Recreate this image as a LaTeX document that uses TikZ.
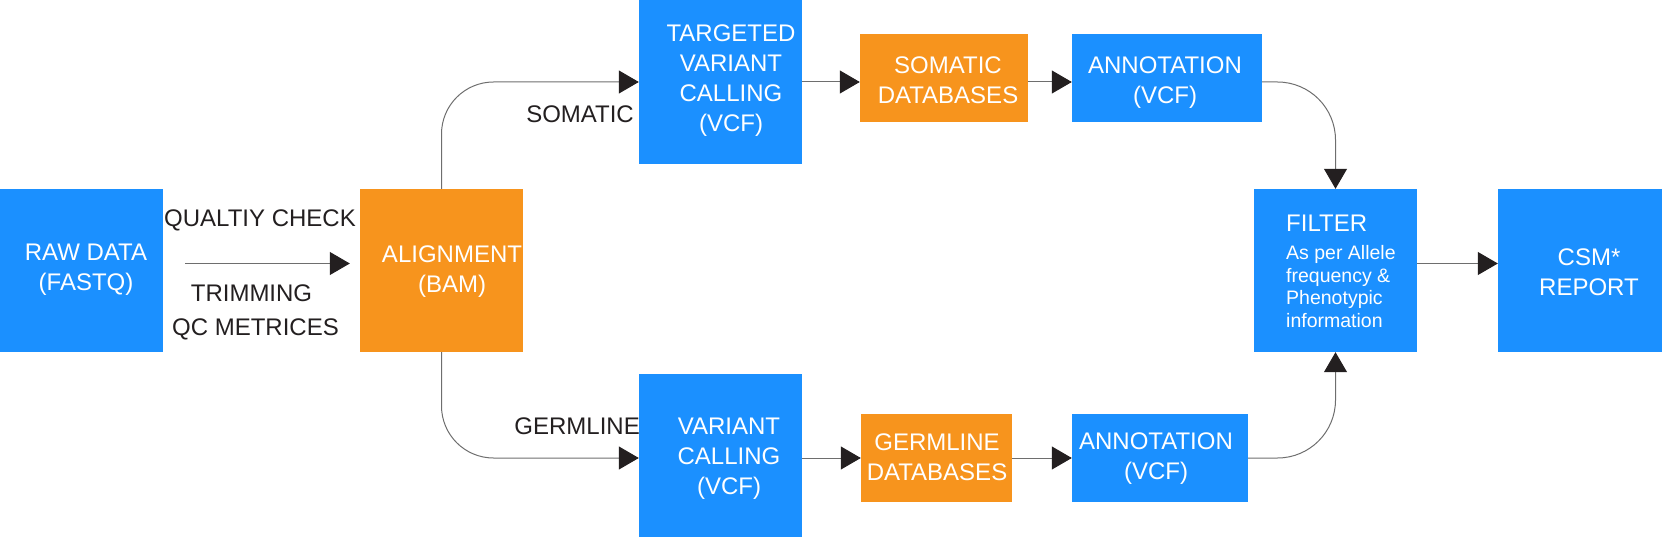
\documentclass[tikz,border=0pt]{standalone}
\usepackage{fontspec}
\setmainfont{Liberation Sans}
\usetikzlibrary{arrows.meta}
\definecolor{bblue}{RGB}{27,144,255}
\definecolor{borange}{RGB}{247,148,29}
\definecolor{dark}{RGB}{35,31,32}
\definecolor{lgray}{RGB}{110,110,110}
\tikzset{
  box/.style={draw=none, inner sep=0pt},
  bluebox/.style={box, fill=bblue},
  orangebox/.style={box, fill=borange},
  wtext/.style={text=white, font=\fontsize{24}{30}\selectfont, align=center, inner sep=0pt},
  ltext/.style={text=dark, font=\fontsize{24}{30}\selectfont, inner sep=0pt},
  conn/.style={draw=lgray, line width=1pt, -{Triangle[length=20pt,width=23pt,color=dark]}},
}
\begin{document}
\begin{tikzpicture}[x=1pt,y=-1pt]
\useasboundingbox (0,0) rectangle (1662,540);
% boxes
\node[bluebox, minimum width=162.5pt, minimum height=163pt] (raw) at (81.25,270.5) {};
\node[orangebox, minimum width=163pt, minimum height=163pt] (align) at (441.5,270.5) {};
\node[bluebox, minimum width=163pt, minimum height=164pt] (tvc) at (720.5,82) {};
\node[orangebox, minimum width=168pt, minimum height=88pt] (somdb) at (944,78) {};
\node[bluebox, minimum width=190pt, minimum height=88pt] (annot1) at (1167,78) {};
\node[bluebox, minimum width=163pt, minimum height=163pt] (filter) at (1335.5,270.5) {};
\node[bluebox, minimum width=164pt, minimum height=163pt] (csm) at (1580,270.5) {};
\node[bluebox, minimum width=163pt, minimum height=163pt] (vc) at (720.5,455.5) {};
\node[orangebox, minimum width=151pt, minimum height=88pt] (germdb) at (936.5,458) {};
\node[bluebox, minimum width=176pt, minimum height=88pt] (annot2) at (1160,458) {};
% texts in boxes
\node[wtext] (rawt) at (86,270) {RAW DATA\\(FASTQ)};
\node[wtext] (alignt) at (452,272) {ALIGNMENT\\(BAM)};
\node[wtext] (tvct) at (731,81) {TARGETED\\VARIANT\\CALLING\\(VCF)};
\node[wtext] (somdbt) at (948,80) {SOMATIC\\DATABASES};
\node[wtext] (annot1t) at (1165,82.5) {ANNOTATION\\(VCF)};
\node[wtext, anchor=north west, align=left] (filtert) at (1286,215) {FILTER};
\node[text=white, anchor=north west, align=left, inner sep=0pt, font=\fontsize{19.5}{22.7}\selectfont] (filters) at (1286,245) {As per Allele\\frequency \&\\Phenotypic\\information};
\node[wtext] (csmt) at (1589,272) {CSM*\\REPORT};
\node[wtext] (vct) at (729,459) {VARIANT\\CALLING\\(VCF)};
\node[wtext] (germdbt) at (937,457.5) {GERMLINE\\DATABASES};
\node[wtext] (annot2t) at (1156,459) {ANNOTATION\\(VCF)};
% labels
\node[ltext] (qc) at (260,220) {QUALTIY CHECK};
\node[ltext] (trim) at (251.5,293) {TRIMMING};
\node[ltext] (qcm) at (255.5,329) {QC METRICES};
\node[ltext, anchor=east] (som) at (634,114.5) {SOMATIC};
\node[ltext, anchor=east] (germ) at (640,426) {GERMLINE};
% connectors
\draw[conn, shorten <=22.5pt, shorten >=10pt] ([yshift=7pt]raw.east) -- ([yshift=7pt]align.west);
\draw[conn, rounded corners=52pt] (align.north) |- (tvc.west);
\draw[conn, rounded corners=52pt] (align.south) |- (vc.west |- germdb.west);
\draw[conn] (tvc.east) -- (tvc.east -| somdb.west);
\draw[conn] (somdb.east |- tvc.east) -- (annot1.west |- tvc.east);
\draw[conn] (vc.east |- germdb.west) -- (germdb.west);
\draw[conn] (germdb.east) -- (annot2.west);
\draw[conn, rounded corners=58pt] (annot1.east |- tvc.east) -| (filter.north);
\draw[conn, rounded corners=58pt] (annot2.east) -| (filter.south);
\draw[conn] ([yshift=7pt]filter.east) -- ([yshift=7pt]csm.west);
\end{tikzpicture}
\end{document}
